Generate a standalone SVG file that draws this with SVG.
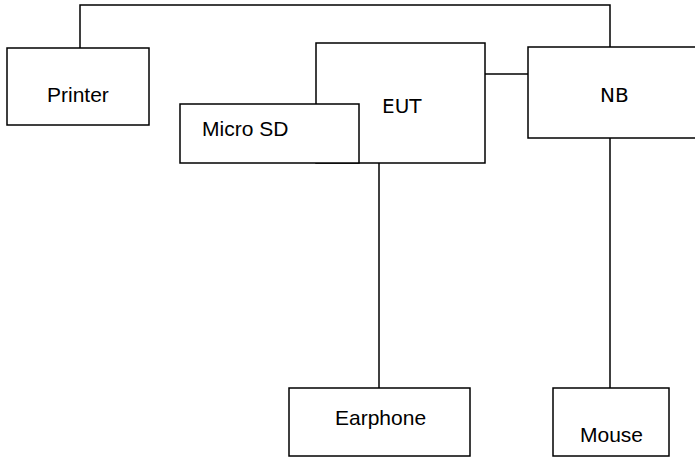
<svg xmlns="http://www.w3.org/2000/svg" width="695" height="457" viewBox="0 0 695 457">
<style>
.box{fill:#fff;stroke:#000;stroke-width:1.5}
.ln{fill:none;stroke:#000;stroke-width:1.5}
.a{font-family:"Liberation Sans",Arial,sans-serif;font-size:21px;fill:#000}
.d{font-family:"DejaVu Sans",sans-serif;font-size:20px;fill:#000}
</style>
<rect width="695" height="457" fill="#fff"/>
<g id="connectors">
<polyline class="ln" points="80,48 80,5 610,5 610,47"/>
<line class="ln" x1="485" y1="74" x2="528" y2="74"/>
<line class="ln" x1="379" y1="163" x2="379" y2="388"/>
<line class="ln" x1="610" y1="138" x2="610" y2="388"/>
</g>
<g id="printer">
<rect class="box" x="7" y="48" width="142" height="77"/>
<text class="a" x="47" y="102">Printer</text>
</g>
<g id="eut">
<rect class="box" x="316" y="43" width="169" height="120"/>
<text class="d" x="382" y="113">EUT</text>
</g>
<g id="microsd">
<rect class="box" x="180" y="104" width="179" height="59"/>
<text class="a" x="202" y="136">Micro SD</text>
</g>
<g id="nb">
<rect class="box" x="528" y="47" width="175" height="91"/>
<text class="d" x="600" y="102">NB</text>
</g>
<g id="earphone">
<rect class="box" x="289" y="388" width="181" height="68"/>
<text class="a" x="335" y="425">Earphone</text>
</g>
<g id="mouse">
<rect class="box" x="553" y="388" width="116" height="68"/>
<text class="a" x="580" y="442">Mouse</text>
</g>
</svg>
